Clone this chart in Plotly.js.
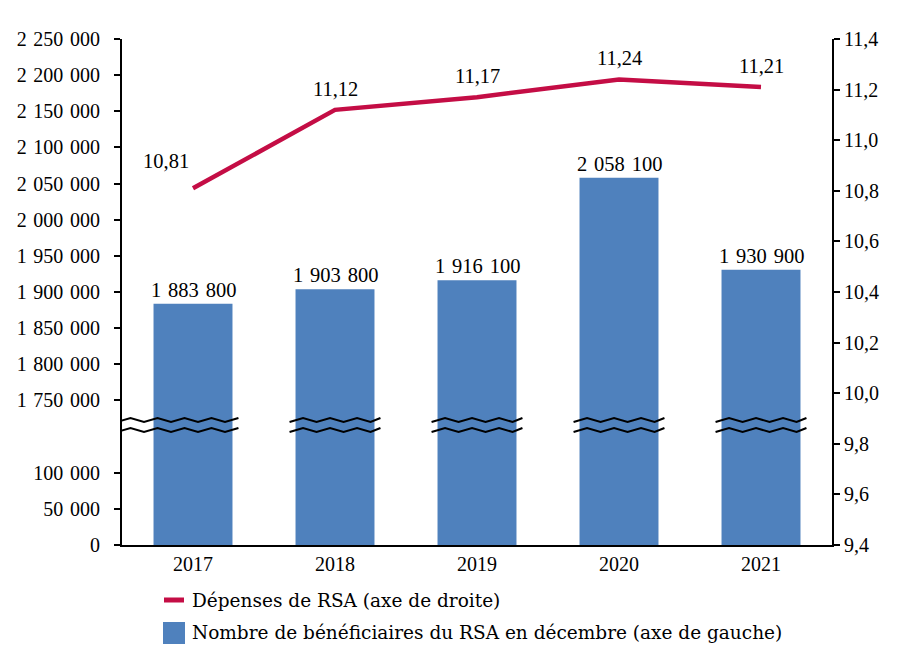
<!DOCTYPE html>
<html>
<head>
<meta charset="utf-8">
<script src="https://cdn.plot.ly/plotly-3.0.1.min.js"></script>
<style>html,body{margin:0;padding:0;background:#fff}#chart{width:910px;height:660px}</style>
</head>
<body>
<div id="chart"></div>
<script>
// ---- Data ----
const years = [2017, 2018, 2019, 2020, 2021];
const beneficiaires = [1883800, 1903800, 1916100, 2058100, 1930900];
const depenses = [10.81, 11.12, 11.17, 11.24, 11.21];
const leftTickValues = [0, 50000, 100000, 1750000, 1800000, 1850000, 1900000, 1950000, 2000000, 2050000, 2100000, 2150000, 2200000, 2250000];
const legendLabels = ["Dépenses de RSA (axe de droite)", "Nombre de bénéficiaires du RSA en décembre (axe de gauche)"];

// ---- Broken-axis helpers ----
const BREAK_FROM = 1750000, BREAK_TO = 200000; // 1 750 000 is drawn where 200 000 would be
function toAxis(v) { return v <= 100000 ? v : v - BREAK_FROM + BREAK_TO; }
function fmt(n) { return String(n).replace(/\B(?=(\d{3})+(?!\d))/g, '\u2004'); }
function fmtDec(x) { return x.toFixed(2).replace('.', ','); }

const FONT = '"Liberation Serif", serif';
const LEGFONT = '"DejaVu Serif", serif';
const RED = '#C40D45';
const BLUE = '#4F81BD';

const barTrace = {
  type: 'bar', x: years, y: beneficiaires.map(toAxis),
  marker: {color: BLUE}, width: 0.556, yaxis: 'y', showlegend: false,
  hoverinfo: 'skip'
};
const lineTrace = {
  type: 'scatter', mode: 'lines', x: years, y: depenses, yaxis: 'y2',
  line: {color: RED, width: 4.5}, showlegend: false, hoverinfo: 'skip'
};

const annotations = [];
years.forEach((yr, i) => {
  annotations.push({x: yr, y: toAxis(beneficiaires[i]), xref: 'x', yref: 'y', text: fmt(beneficiaires[i]),
    showarrow: false, yanchor: 'bottom', yshift: 1, font: {family: FONT, size: 20.5, color: '#000'}});
  annotations.push({x: yr, y: depenses[i], xref: 'x', yref: 'y2', text: fmtDec(depenses[i]),
    showarrow: false, yanchor: 'bottom', yshift: i === 0 ? 14 : 8, xshift: i === 0 ? -27 : 0,
    font: {family: FONT, size: 20.5, color: '#000'}});
});
// custom legend text
annotations.push({x: (190-122)/710, y: (545-600)/506, xref: 'paper', yref: 'paper', xanchor: 'left', yanchor: 'middle',
  text: legendLabels[0], showarrow: false, font: {family: LEGFONT, size: 18.5, color: '#000'}});
annotations.push({x: (190-122)/710, y: (545-633)/506, xref: 'paper', yref: 'paper', xanchor: 'left', yanchor: 'middle',
  text: legendLabels[1], showarrow: false, font: {family: LEGFONT, size: 18.5, color: '#000'}});

// ---- Break zigzags ----
const shapes = [];
const pxX = 1/142; // data units per pixel on x
const pxY = 700000/506; // virtual units per pixel on left y
function zigzag(x0, x1, yc) {
  const half = 13.5 * pxX, amp = 2 * pxY;
  let p = 'M' + x0 + ',' + (yc - amp);
  let x = x0, up = true;
  while (x < x1) {
    x = Math.min(x + half, x1);
    p += ' L' + x + ',' + (up ? yc + amp : yc - amp);
    up = !up;
  }
  return p;
}
years.forEach((yr, i) => {
  const x0 = i === 0 ? yr - 0.5 - 5 * pxX : yr - 0.32;
  const x1 = yr + 0.32;
  [(545-420) * pxY, (545-430) * pxY].forEach(yc => {
    shapes.push({type: 'path', xref: 'x', yref: 'y', path: zigzag(x0, x1, yc),
      line: {color: '#000', width: 2}, layer: 'above'});
  });
});
// legend symbols
shapes.push({type: 'line', xref: 'paper', yref: 'paper', x0: (164-122)/710, x1: (184-122)/710,
  y0: (545-600)/506, y1: (545-600)/506, line: {color: RED, width: 5}});
shapes.push({type: 'rect', xref: 'paper', yref: 'paper', x0: (163-122)/710, x1: (185-122)/710,
  y0: (545-622)/506, y1: (545-644)/506, fillcolor: BLUE, line: {width: 0}});

const layout = {
  width: 910, height: 660,
  margin: {l: 122, r: 78, t: 39, b: 115},
  paper_bgcolor: '#fff', plot_bgcolor: '#fff',
  separators: ', ',
  font: {family: FONT, size: 20, color: '#000'},
  showlegend: false,
  xaxis: {
    type: 'linear', range: [2016.5, 2021.5], tickvals: years, ticktext: years.map(String),
    showgrid: false, zeroline: false, showline: true, linecolor: '#000', linewidth: 2,
    ticks: '', tickfont: {family: FONT, size: 20, color: '#000'}, fixedrange: true
  },
  yaxis: {
    range: [0, 700000], tickvals: leftTickValues.map(toAxis), ticktext: leftTickValues.map(fmt),
    showgrid: false, zeroline: false, showline: true, linecolor: '#000', linewidth: 2,
    ticks: 'outside', ticklen: 6, tickwidth: 2, tickcolor: '#000', ticklabelstandoff: 10,
    tickfont: {family: FONT, size: 20, color: '#000'}, fixedrange: true
  },
  yaxis2: {
    overlaying: 'y', side: 'right', range: [9.4, 11.4], dtick: 0.2, tick0: 9.4, tickformat: '.1f',
    showgrid: false, zeroline: false, showline: true, linecolor: '#000', linewidth: 2,
    ticks: 'outside', ticklen: 6, tickwidth: 2, tickcolor: '#000',
    tickfont: {family: FONT, size: 20, color: '#000'}, fixedrange: true
  },
  annotations: annotations,
  shapes: shapes
};

Plotly.newPlot('chart', [barTrace, lineTrace], layout, {displayModeBar: false, staticPlot: true});
</script>
</body>
</html>
